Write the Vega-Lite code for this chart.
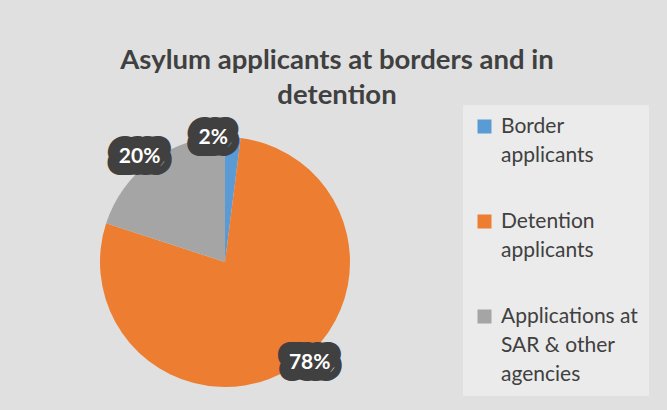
{
  "$schema": "https://vega.github.io/schema/vega-lite/v6.json",
  "autosize": {"type": "none"},
  "width": 250,
  "height": 250,
  "padding": {"left": 100, "top": 137, "right": 317, "bottom": 23},
  "background": "#e0e0e0",
  "title": {
    "text": ["Asylum applicants at borders and in", "detention"],
    "anchor": "middle",
    "dx": 112,
    "offset": -4,
    "font": "Lato",
    "fontSize": 27.5,
    "fontWeight": "bold",
    "color": "#404040",
    "lineHeight": 35
  },
  "data": {
    "values": [
      {"category": "Border applicants", "share": 0.02, "rank": 1},
      {"category": "Detention applicants", "share": 0.78, "rank": 2},
      {"category": "Applications at SAR & other agencies", "share": 0.20, "rank": 3}
    ]
  },
  "encoding": {
    "theta": {"field": "share", "type": "quantitative", "stack": true},
    "order": {"field": "rank", "type": "quantitative"}
  },
  "layer": [
    {
      "mark": {"type": "arc", "outerRadius": 125, "stroke": null},
      "encoding": {
        "color": {
          "field": "category",
          "type": "nominal",
          "sort": null,
          "scale": {
            "domain": ["Border applicants", "Detention applicants", "Applications at SAR & other agencies"],
            "range": ["#5b9bd5", "#ed7d31", "#a5a5a5"]
          },
          "legend": {
            "orient": "none",
            "legendX": 363,
            "legendY": -32,
            "title": null,
            "fillColor": "#ebebeb",
            "padding": 11,
            "symbolType": "square",
            "symbolSize": 196,
            "symbolStrokeWidth": 0,
            "labelFont": "Lato",
            "labelFontSize": 21,
            "labelColor": "#404040",
            "labelLimit": 300,
            "labelOffset": 6,
            "rowPadding": 44,
            "labelExpr": "datum.label === 'Border applicants' ? ['Border', 'applicants'] : datum.label === 'Detention applicants' ? ['Detention', 'applicants'] : ['Applications at', 'SAR & other', 'agencies']"
          }
        }
      }
    },
    {
      "mark": {
        "type": "text",
        "radius": 130,
        "font": "Lato",
        "fontSize": 21,
        "fontWeight": "bold",
        "fill": "#404040",
        "stroke": "#404040",
        "strokeWidth": 24,
        "strokeJoin": "round",
        "align": "center",
        "baseline": "middle",
        "dx": {"expr": "datum.category === 'Border applicants' ? -20 : datum.category === 'Detention applicants' ? 15 : -9"},
        "dy": {"expr": "datum.category === 'Border applicants' ? 6 : datum.category === 'Detention applicants' ? -9 : 0"}
      },
      "encoding": {
        "text": {"field": "share", "type": "quantitative", "format": ".0%"}
      }
    },
    {
      "mark": {
        "type": "text",
        "radius": 130,
        "font": "Lato",
        "fontSize": 21,
        "fontWeight": "bold",
        "fill": "#ffffff",
        "align": "center",
        "baseline": "middle",
        "dx": {"expr": "datum.category === 'Border applicants' ? -20 : datum.category === 'Detention applicants' ? 15 : -9"},
        "dy": {"expr": "datum.category === 'Border applicants' ? 6 : datum.category === 'Detention applicants' ? -9 : 0"}
      },
      "encoding": {
        "text": {"field": "share", "type": "quantitative", "format": ".0%"}
      }
    }
  ],
  "config": {
    "view": {"stroke": null},
    "style": {"guide-label": {"lineHeight": 29}}
  }
}
